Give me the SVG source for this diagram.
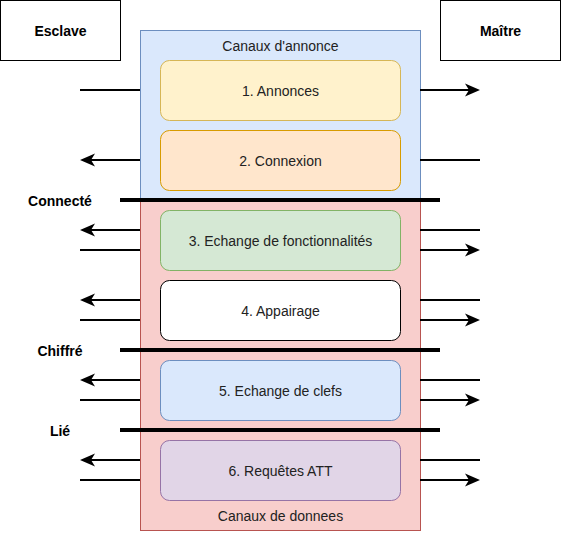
<svg xmlns="http://www.w3.org/2000/svg" width="561" height="538" viewBox="0 0 561 538">
<style>
text{font-family:"Liberation Sans",Arial,sans-serif;font-size:14px;fill:#222;text-anchor:middle}
.b{font-weight:bold;fill:#000}
.ln{stroke:#000;stroke-width:2;fill:none}
.sep{stroke:#000;stroke-width:4;fill:none}
</style>
<defs>
<marker id="arr" markerUnits="userSpaceOnUse" markerWidth="16" markerHeight="14" viewBox="0 0 16 14" refX="7" refY="7" orient="auto">
<path d="M0,0.5 L15,7 L0,13.5 L4,7 Z" fill="#000"/>
</marker>
</defs>
<g id="esclave"><rect x="0.5" y="0.5" width="120" height="60" fill="#fff" stroke="#000"/><text class="b" x="60.5" y="35.5">Esclave</text></g>
<g id="maitre"><rect x="440.5" y="0.5" width="120" height="60" fill="#fff" stroke="#000"/><text class="b" x="500.5" y="35.5">Maître</text></g>
<g id="canaux-annonce"><rect x="140.5" y="30.5" width="280" height="170" fill="#dae8fc" stroke="#6c8ebf"/><text x="280.5" y="51">Canaux d'annonce</text></g>
<g id="canaux-donnees"><rect x="140.5" y="200.5" width="280" height="330" fill="#f8cecc" stroke="#b85450"/><text x="280.5" y="521">Canaux de donnees</text></g>
<g id="n1"><rect x="160.5" y="60.5" width="240" height="60" rx="9" fill="#fff2cc" stroke="#d6b656"/><text x="280.5" y="95.5">1. Annonces</text></g>
<g id="n2"><rect x="160.5" y="130.5" width="240" height="60" rx="9" fill="#ffe6cc" stroke="#d79b00"/><text x="280.5" y="165.5">2. Connexion</text></g>
<g id="n3"><rect x="160.5" y="210.5" width="240" height="60" rx="9" fill="#d5e8d4" stroke="#82b366"/><text x="280.5" y="245.5">3. Echange de fonctionnalités</text></g>
<g id="n4"><rect x="160.5" y="280.5" width="240" height="60" rx="9" fill="#fff" stroke="#000"/><text x="280.5" y="315.5">4. Appairage</text></g>
<g id="n5"><rect x="160.5" y="360.5" width="240" height="60" rx="9" fill="#dae8fc" stroke="#6c8ebf"/><text x="280.5" y="395.5">5. Echange de clefs</text></g>
<g id="n6"><rect x="160.5" y="440.5" width="240" height="60" rx="9" fill="#e1d5e7" stroke="#9673a6"/><text x="280.5" y="475.5">6. Requêtes ATT</text></g>
<g id="states">
<text class="b" x="60" y="205.5">Connecté</text>
<text class="b" x="60" y="355.5">Chiffré</text>
<text class="b" x="60" y="435.5">Lié</text>
</g>
<g id="connectors">
<path class="sep" d="M120,200 H440 M120,350 H440 M120,430 H440"/>
<path class="ln" d="M80,90 H140"/>
<path class="ln" d="M420,90 H472" marker-end="url(#arr)"/>
<path class="ln" d="M140,160 H88" marker-end="url(#arr)"/>
<path class="ln" d="M420,160 H480"/>
<path class="ln" d="M140,230 H88" marker-end="url(#arr)"/>
<path class="ln" d="M80,250 H140"/>
<path class="ln" d="M420,230 H480"/>
<path class="ln" d="M420,250 H472" marker-end="url(#arr)"/>
<path class="ln" d="M140,300 H88" marker-end="url(#arr)"/>
<path class="ln" d="M80,320 H140"/>
<path class="ln" d="M420,300 H480"/>
<path class="ln" d="M420,320 H472" marker-end="url(#arr)"/>
<path class="ln" d="M140,380 H88" marker-end="url(#arr)"/>
<path class="ln" d="M80,400 H140"/>
<path class="ln" d="M420,380 H480"/>
<path class="ln" d="M420,400 H472" marker-end="url(#arr)"/>
<path class="ln" d="M140,460 H88" marker-end="url(#arr)"/>
<path class="ln" d="M80,480 H140"/>
<path class="ln" d="M420,460 H480"/>
<path class="ln" d="M420,480 H472" marker-end="url(#arr)"/>
</g>
</svg>
